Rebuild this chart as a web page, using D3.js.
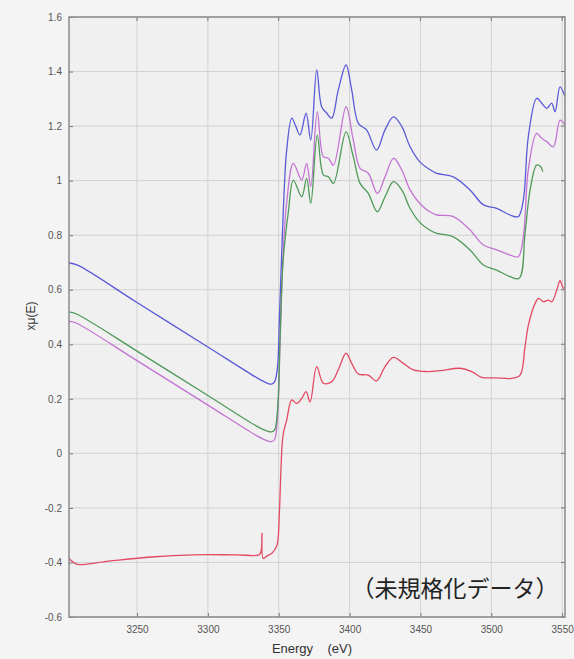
<!DOCTYPE html>
<html><head><meta charset="utf-8">
<script src="https://cdn.jsdelivr.net/npm/d3@7"></script>
<style>
html,body{margin:0;padding:0;background:#f4f4f4;}
svg{display:block;}
</style></head>
<body>
<svg id="chart" width="574" height="659"></svg>
<script>
const xTicks = [3250, 3300, 3350, 3400, 3450, 3500, 3550];
const yTicks = [1.6, 1.4, 1.2, 1, 0.8, 0.6, 0.4, 0.2, 0, -0.2, -0.4, -0.6];
const xDomain = [3202, 3552];
const yDomain = [-0.6, 1.6];

const blueE = [3202,3208,3250,3300,3335,3340,3343,3345,3347,3349,3350.5,3352,3354,3355.6,3359.2,3362,3365,3369.3,3372.6,3376.8,3380.3,3383.9,3387.4,3392,3397.5,3401.5,3406.2,3412,3419,3425,3431,3436.9,3442.7,3449.7,3456.8,3461.5,3473.2,3485,3494.4,3503.8,3513.2,3519,3522.6,3526.1,3532,3535.6,3539.1,3542.6,3545,3548.5,3552];
const blueV = [0.698,0.69,0.553,0.39,0.276,0.262,0.255,0.254,0.262,0.31,0.5,0.72,0.98,1.112,1.229,1.2,1.167,1.247,1.149,1.406,1.271,1.247,1.229,1.332,1.424,1.332,1.21,1.186,1.112,1.186,1.234,1.198,1.124,1.068,1.04,1.027,1.014,0.966,0.911,0.898,0.874,0.868,0.929,1.161,1.302,1.284,1.265,1.284,1.253,1.344,1.308];

const magE = [3202,3207,3250,3300,3335,3340,3343,3345,3347,3349,3351,3353,3355.6,3360.3,3366.2,3369.7,3372.6,3377.2,3381.5,3385,3388.6,3397.5,3402.6,3407.4,3413.2,3419.6,3425,3431,3436.8,3442.7,3449.7,3456.8,3461.5,3473.2,3485,3494.4,3503.8,3513.2,3519,3522.6,3526.1,3532,3535.6,3539.1,3543.8,3548.5,3552];
const magV = [0.485,0.478,0.34,0.177,0.063,0.05,0.044,0.043,0.05,0.12,0.42,0.72,0.92,1.063,1.002,1.063,0.978,1.253,1.088,1.082,1.057,1.271,1.149,1.045,1.027,0.953,1.014,1.082,1.039,0.966,0.915,0.885,0.874,0.868,0.819,0.764,0.746,0.727,0.721,0.794,1.039,1.173,1.155,1.143,1.124,1.222,1.204];

const greenE = [3202,3207,3250,3300,3335,3340,3343,3345,3347,3349,3351,3353,3356.8,3360.3,3366.2,3369.7,3372.6,3377.2,3381.5,3385,3388.6,3397.5,3402.6,3407.4,3413.2,3419.6,3425,3431,3436.8,3442.7,3449.7,3456.8,3461.5,3473.2,3485,3494.4,3503.8,3513.2,3519.7,3523.8,3527.4,3532,3534.9,3536.3];
const greenV = [0.519,0.512,0.375,0.212,0.098,0.085,0.08,0.079,0.085,0.15,0.43,0.7,0.886,1.002,0.941,1.008,0.917,1.167,1.021,1.014,0.99,1.179,1.088,0.99,0.953,0.886,0.941,0.996,0.966,0.898,0.846,0.818,0.807,0.794,0.746,0.691,0.672,0.648,0.642,0.807,0.966,1.057,1.051,1.033];

const redE = [3202,3204,3208,3230,3260,3290,3320,3336,3337.5,3338.2,3339,3342,3345,3348.6,3350.4,3351.4,3352.5,3353.5,3355.6,3359.2,3362.7,3366.3,3369.3,3372.1,3376.8,3381.5,3387.4,3392,3397.5,3401.5,3406.2,3413.2,3419,3425,3430.9,3438,3445,3454.4,3463.8,3477.9,3486.2,3493.2,3503.8,3514.4,3520.3,3523.8,3526.2,3530.9,3533.3,3536.8,3540.3,3542.7,3546.2,3548.5,3550.9,3552];
const redV = [-0.383,-0.395,-0.407,-0.395,-0.38,-0.372,-0.372,-0.372,-0.36,-0.293,-0.385,-0.375,-0.367,-0.34,-0.22,-0.08,0.04,0.08,0.122,0.196,0.183,0.202,0.226,0.189,0.318,0.257,0.263,0.306,0.367,0.33,0.291,0.287,0.266,0.318,0.352,0.33,0.306,0.3,0.303,0.312,0.3,0.279,0.277,0.275,0.287,0.391,0.471,0.55,0.568,0.556,0.562,0.556,0.599,0.633,0.605,0.61];

const seriesNames = ["blue", "magenta", "green", "red"];
const seriesColors = ["#5a5ad8", "#c373d3", "#4f9a58", "#e34a62"];

const svg = d3.select("#chart");
const m = {left: 69, top: 17, right: 565, bottom: 617};
const x = d3.scaleLinear().domain(xDomain).range([m.left, m.right]);
const y = d3.scaleLinear().domain(yDomain).range([m.bottom, m.top]);

svg.append("rect").attr("x", m.left).attr("y", m.top)
  .attr("width", m.right - m.left).attr("height", m.bottom - m.top)
  .attr("fill", "#f0f0f0");

// grid
svg.append("g").selectAll("line").data(xTicks).join("line")
  .attr("x1", d => x(d)).attr("x2", d => x(d))
  .attr("y1", m.top).attr("y2", m.bottom)
  .attr("stroke", "#d2d2d2").attr("stroke-width", 1);
svg.append("g").selectAll("line").data(yTicks).join("line")
  .attr("x1", m.left).attr("x2", m.right)
  .attr("y1", d => y(d)).attr("y2", d => y(d))
  .attr("stroke", "#d2d2d2").attr("stroke-width", 1);

// lines
const data = [
  blueE.map((e, i) => [e, blueV[i]]),
  magE.map((e, i) => [e, magV[i]]),
  greenE.map((e, i) => [e, greenV[i]]),
  redE.map((e, i) => [e, redV[i]])
];
const line = d3.line().x(d => x(d[0])).y(d => y(d[1])).curve(d3.curveCatmullRom.alpha(0.5));
const clip = svg.append("clipPath").attr("id", "clip").append("rect")
  .attr("x", m.left).attr("y", m.top).attr("width", m.right - m.left).attr("height", m.bottom - m.top);
svg.append("g").attr("clip-path", "url(#clip)").selectAll("path").data(data).join("path")
  .attr("d", line).attr("fill", "none")
  .attr("stroke", (d, i) => seriesColors[i]).attr("stroke-width", 1.3);

// axes
const xAxis = d3.axisBottom(x).tickValues(xTicks).tickSize(-4).tickPadding(9).tickFormat(d3.format("d"));
const yAxis = d3.axisLeft(y).tickValues(yTicks).tickSize(-4).tickPadding(7).tickFormat(d => String(d));
const gx = svg.append("g").attr("transform", `translate(0,${m.bottom})`).call(xAxis);
const gy = svg.append("g").attr("transform", `translate(${m.left},0)`).call(yAxis);
[gx, gy].forEach(g => {
  g.select(".domain").remove();
  g.selectAll(".tick line").attr("stroke", "#777");
  g.selectAll(".tick text").attr("fill", "#555").attr("font-size", 10).attr("font-family", "Liberation Sans, Arial, sans-serif");
});
// top/right ticks
svg.append("g").selectAll("line").data(xTicks).join("line")
  .attr("x1", d => x(d)).attr("x2", d => x(d)).attr("y1", m.top).attr("y2", m.top + 4).attr("stroke", "#777");
svg.append("g").selectAll("line").data(yTicks).join("line")
  .attr("x1", m.right).attr("x2", m.right - 4).attr("y1", d => y(d)).attr("y2", d => y(d)).attr("stroke", "#777");

svg.append("rect").attr("x", m.left).attr("y", m.top)
  .attr("width", m.right - m.left).attr("height", m.bottom - m.top)
  .attr("fill", "none").attr("stroke", "#8a8a8a").attr("stroke-width", 1.5);

// labels
svg.append("text").attr("x", 312).attr("y", 653).attr("text-anchor", "middle")
  .attr("font-size", 13).attr("fill", "#333").attr("font-family", "Liberation Sans, Arial, sans-serif")
  .attr("xml:space", "preserve").style("white-space", "pre")
  .text("Energy    (eV)");
svg.append("text").attr("transform", "translate(35,316) rotate(-90)").attr("text-anchor", "middle")
  .attr("font-size", 12).attr("fill", "#333").attr("font-family", "Liberation Sans, Arial, sans-serif")
  .text("xμ(E)");
svg.append("text").attr("x", 455).attr("y", 597).attr("text-anchor", "middle")
  .attr("font-size", 23).attr("fill", "#222").attr("font-family", "Noto Sans CJK JP, sans-serif")
  .text("（未規格化データ）");
</script>
</body></html>
